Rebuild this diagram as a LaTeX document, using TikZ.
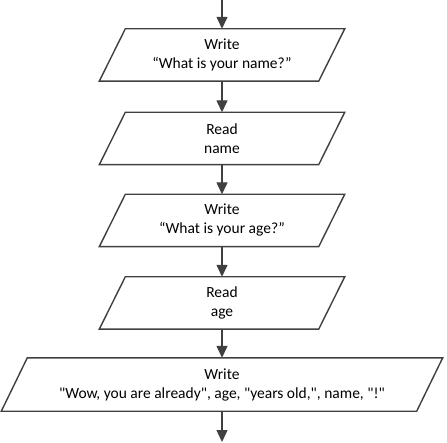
\documentclass[tikz,border=0pt]{standalone}
\usepackage{fontspec}
\setmainfont{Carlito}[Ligatures=TeXOff]
\usetikzlibrary{arrows.meta}
\definecolor{linegray}{HTML}{404040}
\tikzset{
  io/.style={rectangle, minimum height=52pt, minimum width=219pt, inner sep=0pt,
    align=center, font=\fontsize{15.5}{19}\selectfont, text=black},
  para/.style={draw=linegray, line width=1.4pt, line join=miter},
  flow/.style={draw=linegray, line width=1.4pt,
    -{Triangle[length=12pt,width=11pt]}, color=linegray}
}
\begin{document}
\begin{tikzpicture}[x=1pt,y=1pt]
\useasboundingbox (0,0) rectangle (447,442);
\coordinate (start) at (222,442);
\coordinate (stop) at (222,0);
\node[io] (w1) at (222,387) {Write\\“What is your name?”};
\node[io] (r1) at (222,303.5) {Read\\name};
\node[io] (w2) at (222,221.5) {Write\\“What is your age?”};
\node[io] (r2) at (222,139) {Read\\age};
\node[io, minimum width=415pt, minimum height=53pt] (w3) at (222,57.5) {Write\\"Wow, you are already", age, "years old,", name, "!"};
\foreach \n in {w1,r1,w2,r2,w3}{
  \draw[para] ([xshift=-13pt]\n.south west) -- ([xshift=13pt]\n.north west)
    -- ([xshift=13pt]\n.north east) -- ([xshift=-13pt]\n.south east) -- cycle;
}
\draw[flow] (start) -- (w1.north);
\draw[flow] (w1.south) -- (r1.north);
\draw[flow] (r1.south) -- (w2.north);
\draw[flow] (w2.south) -- (r2.north);
\draw[flow] (r2.south) -- (w3.north);
\draw[flow] (w3.south) -- (stop);
\end{tikzpicture}
\end{document}
